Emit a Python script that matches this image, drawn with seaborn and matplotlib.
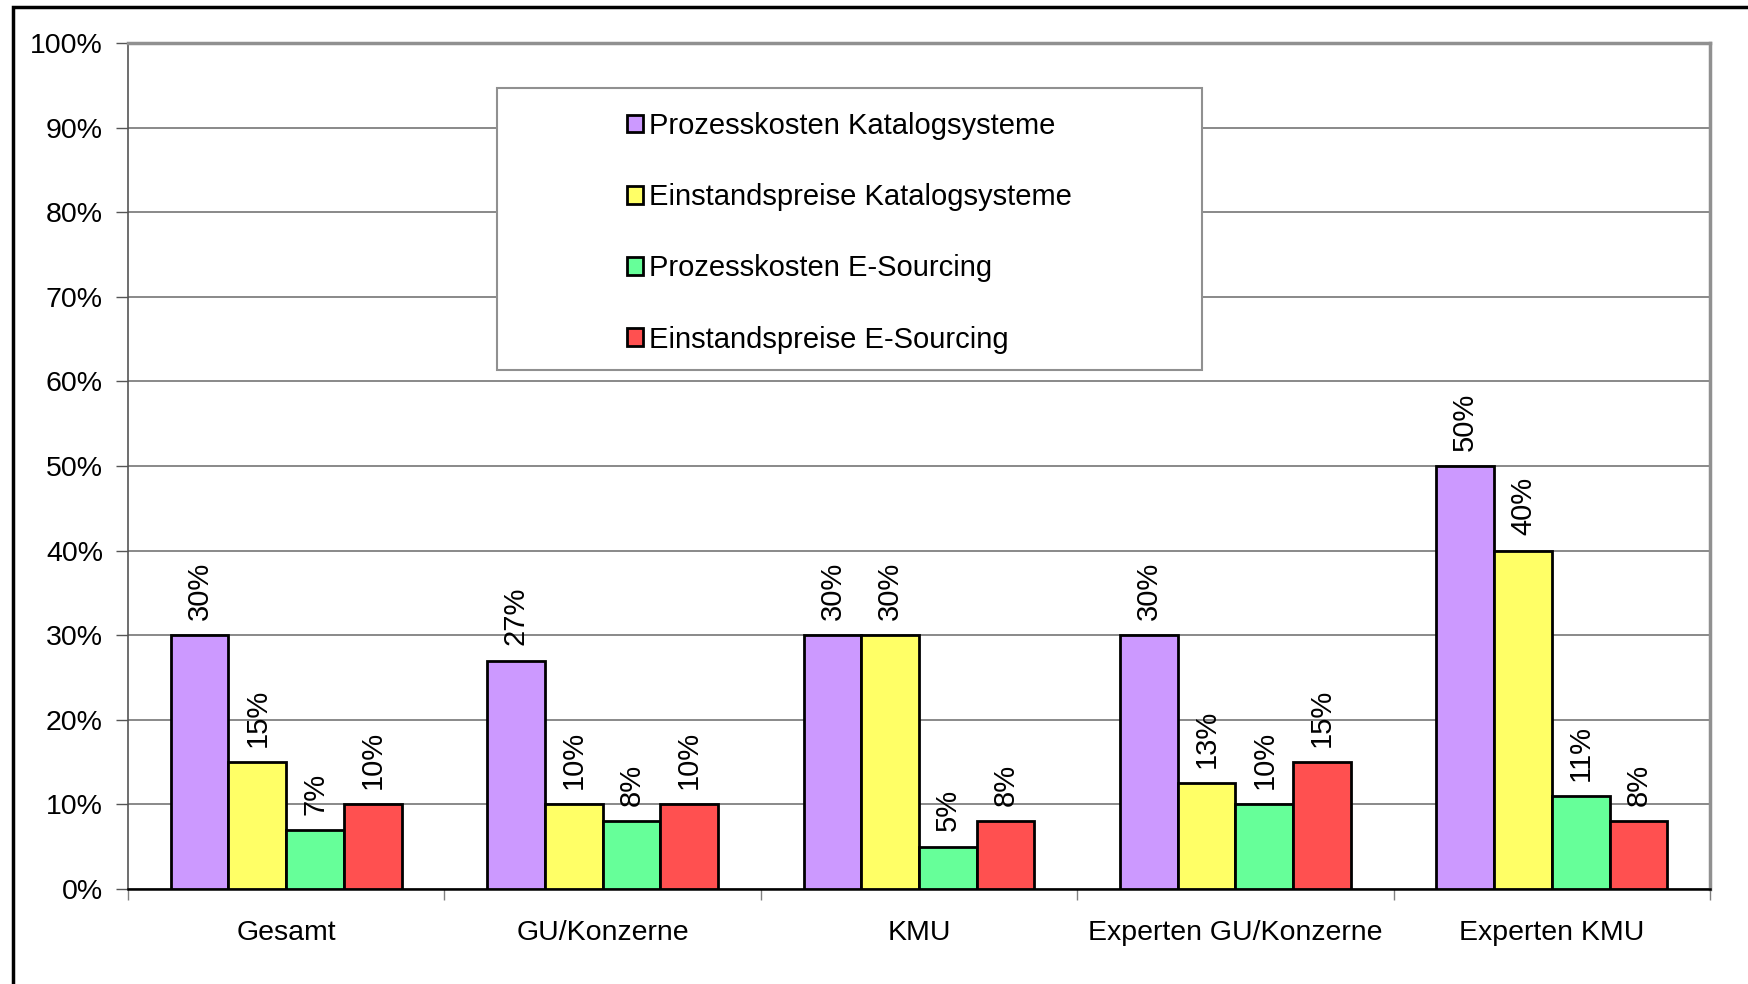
import numpy as np
import pandas as pd
import matplotlib
matplotlib.use('Agg')
import matplotlib.pyplot as plt
import matplotlib.patches as mpatches
from matplotlib.ticker import PercentFormatter, FixedLocator
import seaborn as sns

# datos del grafico

gruppen = ['Gesamt', 'GU/Konzerne', 'KMU', 'Experten GU/Konzerne', 'Experten KMU']
serien = ['Prozesskosten Katalogsysteme', 'Einstandspreise Katalogsysteme',
          'Prozesskosten E-Sourcing', 'Einstandspreise E-Sourcing']

prozess_katalog = [0.30, 0.27, 0.30, 0.30, 0.50]
einstand_katalog = [0.15, 0.10, 0.30, 0.125, 0.40]
prozess_esourcing = [0.07, 0.08, 0.05, 0.10, 0.11]
einstand_esourcing = [0.10, 0.10, 0.08, 0.15, 0.08]

etiketten = [
    ['30%', '27%', '30%', '30%', '50%'],
    ['15%', '10%', '30%', '13%', '40%'],
    ['7%', '8%', '5%', '10%', '11%'],
    ['10%', '10%', '8%', '15%', '8%'],
]

farben = ['#CC99FF', '#FFFF66', '#66FF99', '#FF5050']

# armamos el dataframe en formato largo

werte = [prozess_katalog, einstand_katalog, prozess_esourcing, einstand_esourcing]
df = pd.DataFrame({
    'Gruppe': [g for s in serien for g in gruppen],
    'Serie': [s for s in serien for g in gruppen],
    'Wert': [v for w in werte for v in w],
})

sns.set_style('white')
plt.rcParams['font.family'] = ['Liberation Sans', 'DejaVu Sans']
plt.rcParams['text.color'] = 'black'
plt.rcParams['xtick.labelcolor'] = 'black'
plt.rcParams['ytick.labelcolor'] = 'black'

fig = plt.figure(figsize=(17.49, 9.84), dpi=100)
ax = fig.add_axes([128 / 1749, 1 - 889 / 984, 1582 / 1749, 846 / 984])

sns.barplot(data=df, x='Gruppe', y='Wert', hue='Serie', order=gruppen,
            hue_order=serien, palette=farben, edgecolor='black', linewidth=2,
            width=0.73, gap=0, saturation=1, ax=ax, legend=True, zorder=3)

# etiquetas de datos giradas

for cont, lab in zip(ax.containers, etiketten):
    ax.bar_label(cont, labels=lab, rotation=90, padding=11, fontsize=21,
                 color='black')

# ejes

ax.set_ylim(0, 1)
ax.set_xlim(-0.5, 4.5)
ax.yaxis.set_major_locator(FixedLocator(np.arange(0, 1.01, 0.1)))
ax.yaxis.set_major_formatter(PercentFormatter(1.0, decimals=0))
ax.grid(axis='y', color='#808080', linewidth=1.3, zorder=0)
ax.set_axisbelow(True)
ax.set_xlabel('')
ax.set_ylabel('')

ax.tick_params(axis='y', which='major', direction='out', length=9, width=1,
               color='#555555', labelsize=20.5, pad=9, left=True,
               labelcolor='black')
ax.tick_params(axis='x', which='major', length=0, labelsize=20.5, pad=22,
               labelcolor='black')
ax.xaxis.set_minor_locator(FixedLocator(np.arange(-0.5, 5, 1)))
ax.tick_params(axis='x', which='minor', direction='out', length=8, width=1,
               color='#808080', bottom=True)

for lado in ['top', 'right']:
    ax.spines[lado].set_color('#909090')
    ax.spines[lado].set_linewidth(2.5)
ax.spines['left'].set_color('#555555')
ax.spines['left'].set_linewidth(1.2)
ax.spines['bottom'].set_color('black')
ax.spines['bottom'].set_linewidth(1.8)

# leyenda con marco aparte

caja = mpatches.Rectangle(((497.5 - 128) / 1582, (889 - 370) / 846),
                          704.5 / 1582, 282 / 846, transform=ax.transAxes,
                          facecolor='white', edgecolor='#909090', linewidth=1.5,
                          zorder=4)
ax.add_patch(caja)

leg = ax.legend(loc='upper left', bbox_to_anchor=((627 - 128) / 1582, (889 - 112) / 846),
                frameon=False, fontsize=21, borderpad=0, borderaxespad=0,
                handlelength=0.55, handleheight=0.55, handletextpad=0.22,
                labelspacing=1.48, title=None)
for t in leg.get_texts():
    t.set_color('black')
leg.set_zorder(5)

# marco exterior negro

marco = mpatches.Rectangle((13 / 1749, -0.2), 1.3, 0.2 + 1 - 7 / 984,
                           transform=fig.transFigure, fill=False,
                           edgecolor='black', linewidth=2.5)
fig.patches.append(marco)

fig.savefig('out.png', dpi=100, facecolor='white')
